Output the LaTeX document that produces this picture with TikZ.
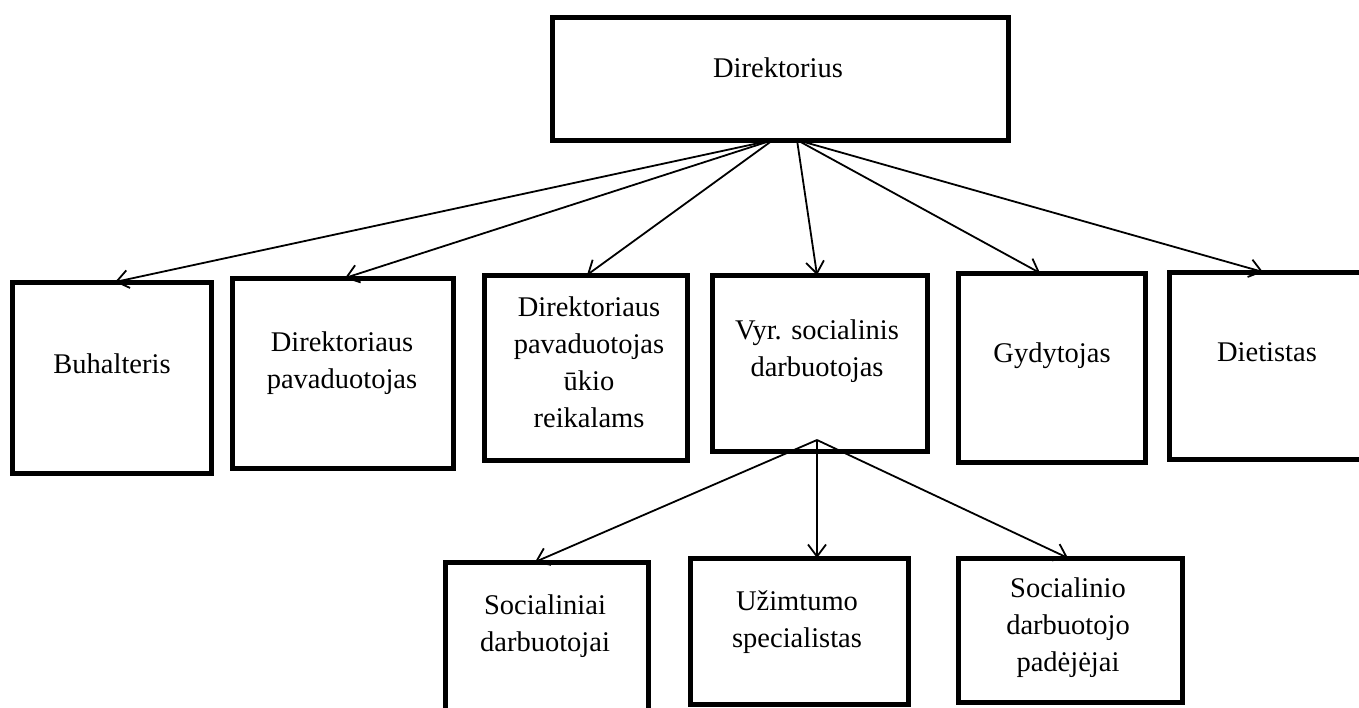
\documentclass[tikz,border=0pt]{standalone}
\usepackage{fontspec}
\setmainfont{Liberation Serif}
\usetikzlibrary{arrows.meta}
\begin{document}
\begin{tikzpicture}[x=1pt,y=-1pt,
  box/.style={draw, line width=5pt, outer sep=0pt, inner sep=0pt},
  lbl/.style={font=\fontsize{28.5}{37}\selectfont, align=center, inner sep=0pt},
  conn/.style={line width=1.8pt, -{Straight Barb[length=12pt,width=18pt]}}]
\clip (0,0) rectangle (1359,707);
\fill[white] (0,0) rectangle (1359,707);
% boxes
\node[box, minimum width=456pt, minimum height=123pt] (dir) at (780,78.5) {};
\node[box, minimum width=199pt, minimum height=191pt] (buh) at (111.5,377.5) {};
\node[box, minimum width=221pt, minimum height=190pt] (dpav) at (342.5,373) {};
\node[box, minimum width=203pt, minimum height=185pt] (duk) at (585.5,367.5) {};
\node[box, minimum width=215pt, minimum height=176pt] (vyr) at (819.5,363) {};
\node[box, minimum width=187pt, minimum height=189pt] (gyd) at (1051.5,367.5) {};
\node[box, minimum width=196pt, minimum height=187pt] (diet) at (1267,365.5) {};
\node[box, minimum width=203pt, minimum height=153pt] (soc) at (546.5,638.5) {};
\node[box, minimum width=218pt, minimum height=146pt] (uzi) at (799,631) {};
\node[box, minimum width=224pt, minimum height=144pt] (sop) at (1070,630) {};
% texts
\node[lbl] (dir-t) at (778,68) {Direktorius};
\node[lbl] (buh-t) at (112,364) {Buhalteris};
\node[lbl] (dpav-t) at (342,363) {Direktoriaus\\pavaduotojas};
\node[lbl] (duk-t) at (589,362) {Direktoriaus\\pavaduotojas\\ūkio\\reikalams};
\node[lbl] (vyr-t) at (817,351) {Vyr. socialinis\\darbuotojas};
\node[lbl] (gyd-t) at (1052,356) {Gydytojas};
\node[lbl] (diet-t) at (1267,352) {Dietistas};
\node[lbl] (soc-t) at (545,626) {Socialiniai\\darbuotojai};
\node[lbl] (uzi-t) at (797,622) {Užimtumo\\specialistas};
\node[lbl] (sop-t) at (1068,628) {Socialinio\\darbuotojo\\padėjėjai};
% connectors
\coordinate (dirL) at ([xshift=-7pt]dir.south);
\coordinate (dirR) at ([xshift=17pt]dir.south);
\coordinate (vyrA) at ([xshift=-2.5pt,yshift=11pt]vyr.south);
\draw[conn] (dirL) -- ([xshift=3.5pt]buh.north);
\draw[conn] (dirL) -- ([xshift=2.5pt]dpav.north);
\draw[conn] (dirL) -- ([xshift=1.5pt]duk.north);
\draw[conn] (dirR) -- ([xshift=-2.5pt]vyr.north);
\draw[conn] (dirR) -- ([xshift=-11.5pt]gyd.north);
\draw[conn] (dirR) -- ([xshift=-4pt]diet.north);
\draw[conn] (vyrA) -- ([xshift=-11.5pt]soc.north);
\draw[conn] (vyrA) -- ([xshift=18pt]uzi.north);
\draw[conn] (vyrA) -- ([xshift=-2pt]sop.north);
\end{tikzpicture}
\end{document}
